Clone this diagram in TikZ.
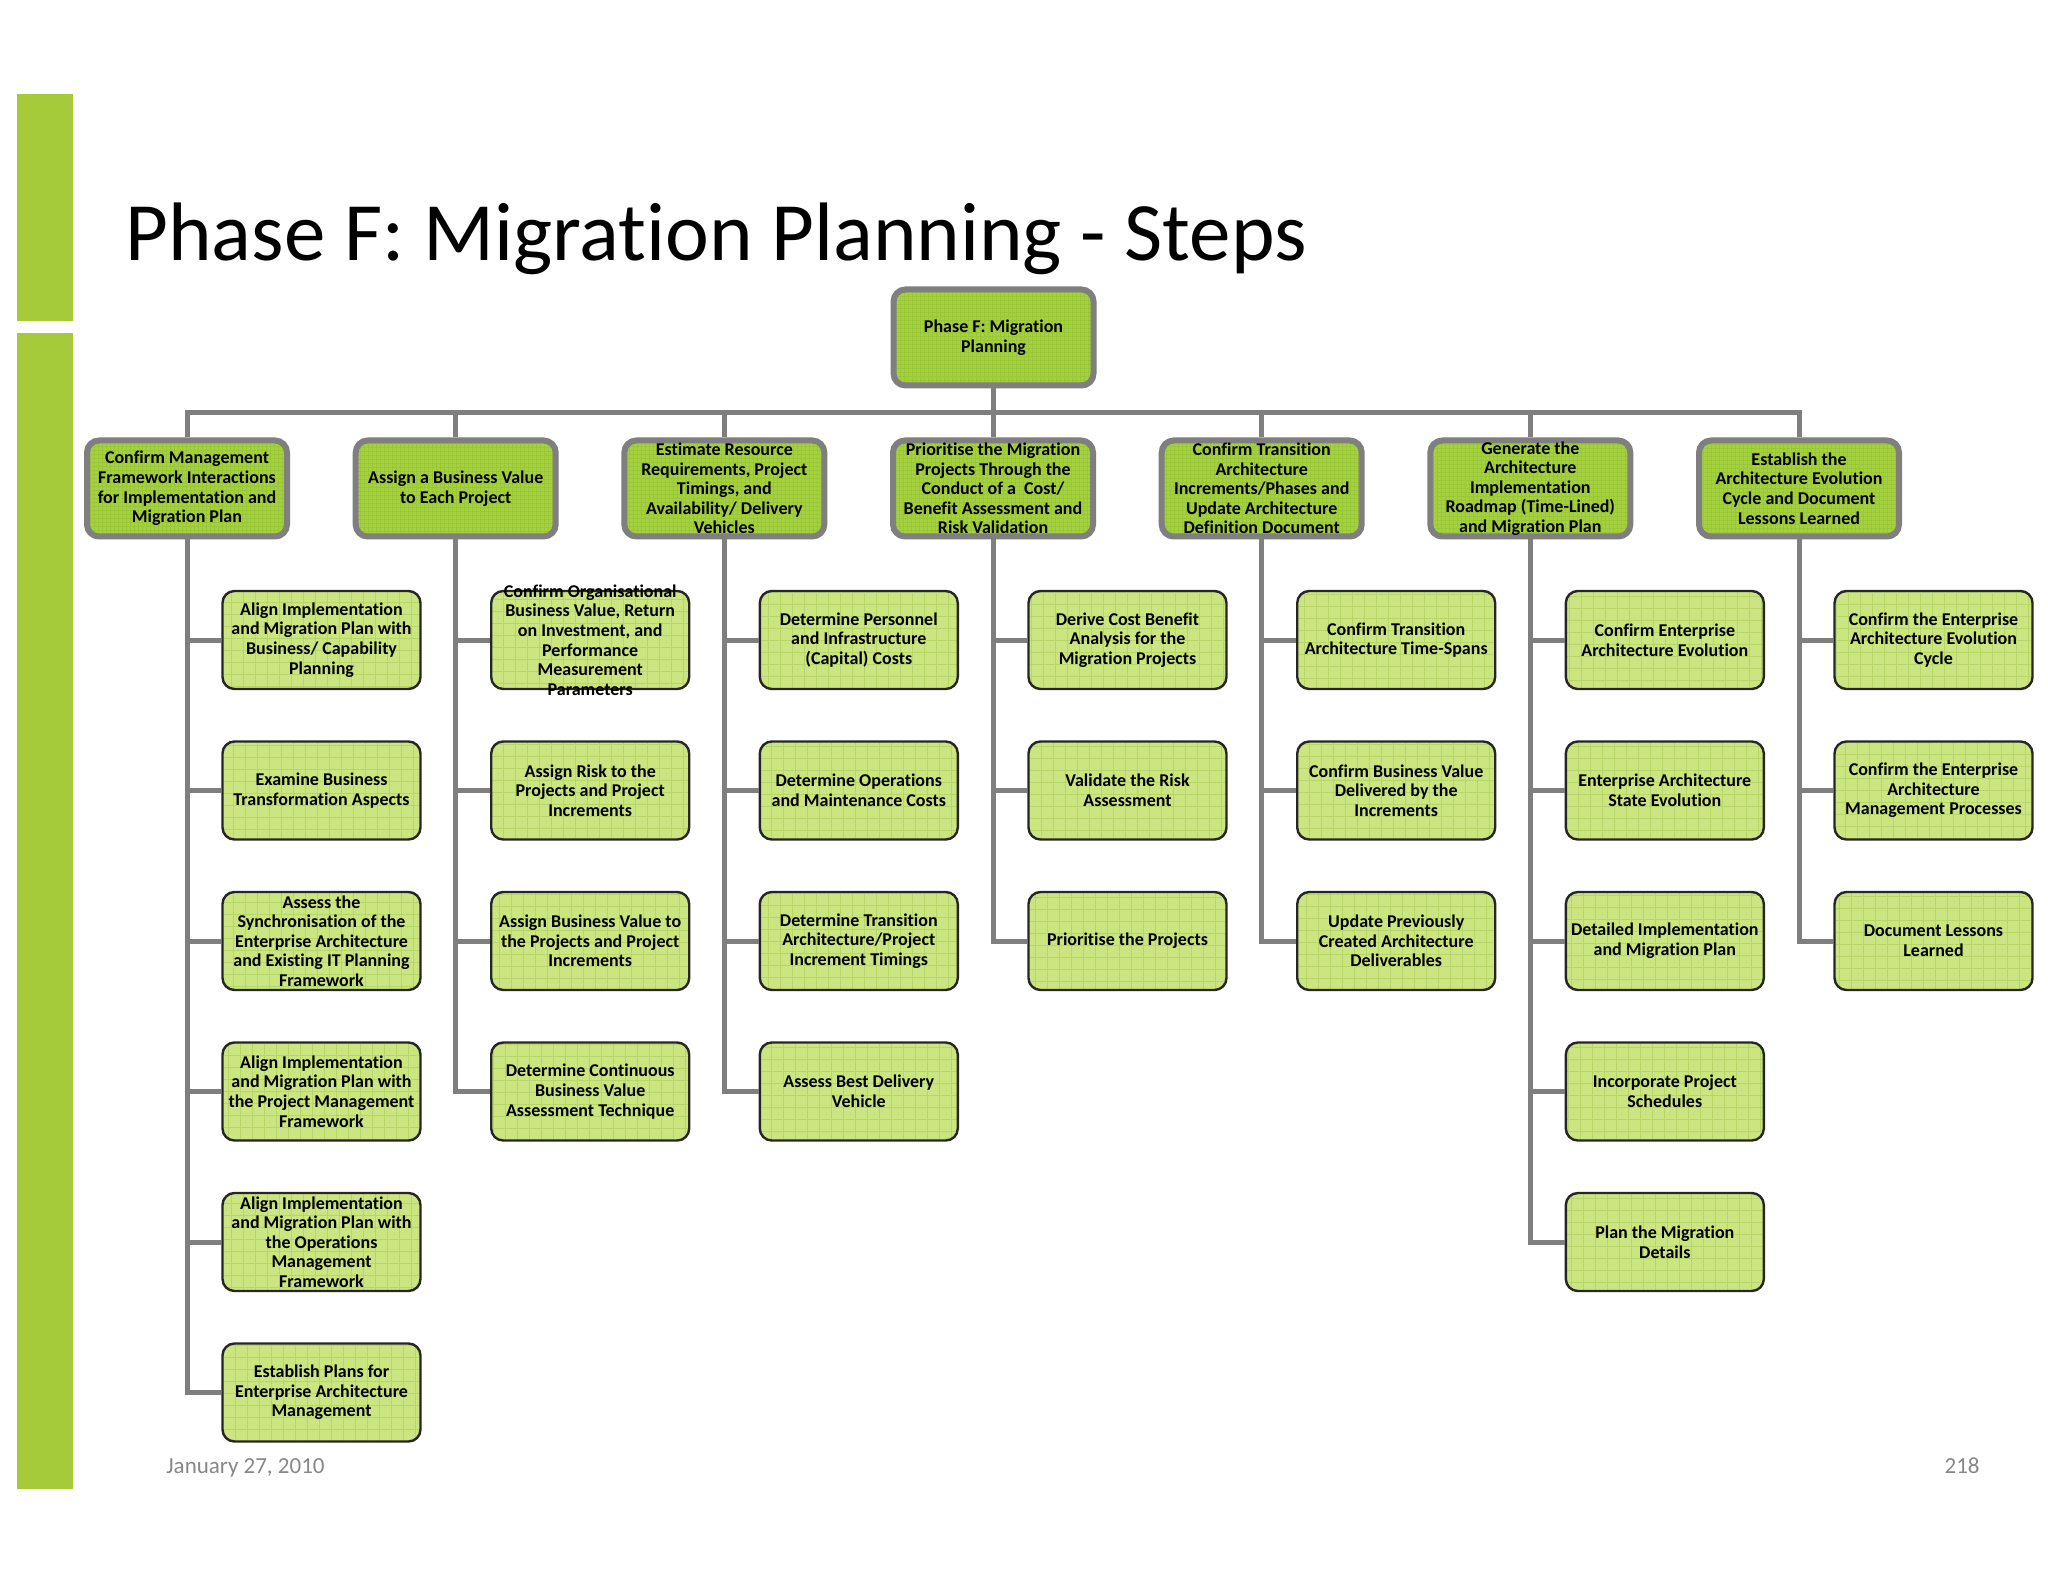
\documentclass[tikz,border=0pt]{standalone}
\usepackage{fontspec}
\setmainfont{Carlito}[Ligatures=NoCommon]
\definecolor{linegray}{HTML}{7F7F7F}
\definecolor{lvlgreen}{HTML}{A5D13F}
\definecolor{dotc}{HTML}{99C737}
\definecolor{subgreen}{HTML}{CBE581}
\definecolor{gridc}{HTML}{B6D66A}
\definecolor{barc}{HTML}{A6CB3A}
\definecolor{foot}{HTML}{878787}
\begin{document}
\begin{tikzpicture}[x=0.5pt,y=-0.5pt,
 conn/.style={draw=linegray,line width=2.5pt},
 mainbox/.style={draw=linegray,line width=3pt,rounded corners=6pt,fill=lvlgreen,
   minimum width=100pt,minimum height=48pt,inner sep=1pt,align=center,
   font=\fontsize{9}{9.8}\selectfont\bfseries,
   path picture={\draw[dotc,line width=0.25pt,step=2pt] (path picture bounding box.south west) grid (path picture bounding box.north east);}},
 subbox/.style={draw=black!85,line width=1.2pt,rounded corners=6pt,fill=subgreen,
   minimum width=99pt,minimum height=49pt,inner sep=1pt,align=center,
   font=\fontsize{9}{9.8}\selectfont\bfseries,
   path picture={\draw[gridc,line width=0.4pt,step=6pt] (path picture bounding box.south west) grid (path picture bounding box.north east);}}
]
\useasboundingbox[fill=white] (0,0) rectangle (2048,1582);
% side bars
\fill[barc] (17,94) rectangle (73,321);
\fill[barc] (17,333) rectangle (73,1489);
% title
\node[anchor=base west,inner sep=0,font=\fontsize{41.5}{46}\selectfont] (title) at (125,261) {Phase F: Migration Planning - Steps};
% footer
\node[anchor=base west,inner sep=0,text=foot,font=\fontsize{11.5}{13}\selectfont] (date) at (166,1473) {January 27, 2010};
\node[anchor=base east,inner sep=0,text=foot,font=\fontsize{11.5}{13}\selectfont] (page) at (1980,1473) {218};

% top
\node[mainbox] (top) at (993.5,337.5) {Phase F: Migration\\Planning};
\coordinate (bus) at (993.5,413);

% level 1
\node[mainbox] (a) at (187,488.5) {Confirm Management\\Framework Interactions\\for Implementation and\\Migration Plan};
\node[mainbox] (b) at (455.7,488.5) {Assign a Business Value\\to Each Project};
\node[mainbox,inner ysep=-3pt] (c) at (724.3,488.5) {Estimate Resource\\Requirements, Project\\Timings, and\\Availability/ Delivery\\Vehicles};
\node[mainbox,inner ysep=-3pt] (d) at (993,488.5) {Prioritise the Migration\\Projects Through the\\Conduct of a\ \ Cost/\\Benefit Assessment and\\Risk Validation};
\node[mainbox,inner ysep=-3pt] (e) at (1261.7,488.5) {Confirm Transition\\Architecture\\Increments/Phases and\\Update Architecture\\Definition Document};
\node[mainbox,inner ysep=-3pt] (f) at (1530.3,488.5) {Generate the\\Architecture\\Implementation\\Roadmap (Time-Lined)\\and Migration Plan};
\node[mainbox] (g) at (1799,488.5) {Establish the\\Architecture Evolution\\Cycle and Document\\Lessons Learned};

% column a
\node[subbox] (a1) at (321.5,640) {Align Implementation\\and Migration Plan with\\Business/ Capability\\Planning};
\node[subbox] (a2) at (321.5,790.5) {Examine Business\\Transformation Aspects};
\node[subbox,inner ysep=-3pt] (a3) at (321.5,941) {Assess the\\Synchronisation of the\\Enterprise Architecture\\and Existing IT Planning\\Framework};
\node[subbox] (a4) at (321.5,1091.5) {Align Implementation\\and Migration Plan with\\the Project Management\\Framework};
\node[subbox,inner ysep=-3pt] (a5) at (321.5,1242) {Align Implementation\\and Migration Plan with\\the Operations\\Management\\Framework};
\node[subbox] (a6) at (321.5,1392.5) {Establish Plans for\\Enterprise Architecture\\Management};
% column b
\node[subbox,inner ysep=-8pt] (b1) at (590.2,640) {Confirm Organisational\\Business Value, Return\\on Investment, and\\Performance\\Measurement\\Parameters};
\node[subbox] (b2) at (590.2,790.5) {Assign Risk to the\\Projects and Project\\Increments};
\node[subbox] (b3) at (590.2,941) {Assign Business Value to\\the Projects and Project\\Increments};
\node[subbox] (b4) at (590.2,1091.5) {Determine Continuous\\Business Value\\Assessment Technique};
% column c
\node[subbox] (c1) at (858.8,640) {Determine Personnel\\and Infrastructure\\(Capital) Costs};
\node[subbox] (c2) at (858.8,790.5) {Determine Operations\\and Maintenance Costs};
\node[subbox] (c3) at (858.8,941) {Determine Transition\\Architecture/Project\\Increment Timings};
\node[subbox] (c4) at (858.8,1091.5) {Assess Best Delivery\\Vehicle};
% column d
\node[subbox] (d1) at (1127.5,640) {Derive Cost Benefit\\Analysis for the\\Migration Projects};
\node[subbox] (d2) at (1127.5,790.5) {Validate the Risk\\Assessment};
\node[subbox] (d3) at (1127.5,941) {Prioritise the Projects};
% column e
\node[subbox] (e1) at (1396.2,640) {Confirm Transition\\Architecture Time-Spans};
\node[subbox] (e2) at (1396.2,790.5) {Confirm Business Value\\Delivered by the\\Increments};
\node[subbox] (e3) at (1396.2,941) {Update Previously\\Created Architecture\\Deliverables};
% column f
\node[subbox] (f1) at (1664.8,640) {Confirm Enterprise\\Architecture Evolution};
\node[subbox] (f2) at (1664.8,790.5) {Enterprise Architecture\\State Evolution};
\node[subbox] (f3) at (1664.8,941) {Detailed Implementation\\and Migration Plan};
\node[subbox] (f4) at (1664.8,1091.5) {Incorporate Project\\Schedules};
\node[subbox] (f5) at (1664.8,1242) {Plan the Migration\\Details};
% column g
\node[subbox] (g1) at (1933.5,640) {Confirm the Enterprise\\Architecture Evolution\\Cycle};
\node[subbox] (g2) at (1933.5,790.5) {Confirm the Enterprise\\Architecture\\Management Processes};
\node[subbox] (g3) at (1933.5,941) {Document Lessons\\Learned};

% connectors
\foreach \p in {a,b,c,d,e,f,g}{
  \draw[conn] (top.south) -- (top.south|-bus) -| (\p.north);
}
\foreach \c in {a1,a2,a3,a4,a5,a6}{\draw[conn] (a.south) |- (\c.west);}
\foreach \c in {b1,b2,b3,b4}{\draw[conn] (b.south) |- (\c.west);}
\foreach \c in {c1,c2,c3,c4}{\draw[conn] (c.south) |- (\c.west);}
\foreach \c in {d1,d2,d3}{\draw[conn] (d.south) |- (\c.west);}
\foreach \c in {e1,e2,e3}{\draw[conn] (e.south) |- (\c.west);}
\foreach \c in {f1,f2,f3,f4,f5}{\draw[conn] (f.south) |- (\c.west);}
\foreach \c in {g1,g2,g3}{\draw[conn] (g.south) |- (\c.west);}
\end{tikzpicture}
\end{document}
